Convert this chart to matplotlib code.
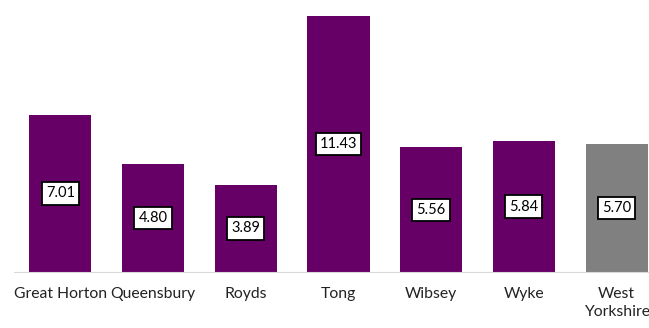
import matplotlib
matplotlib.use("Agg")
import matplotlib.pyplot as plt

areas = ["Great Horton", "Queensbury", "Royds", "Tong", "Wibsey", "Wyke", "West\nYorkshire"]
values = [7.01, 4.80, 3.89, 11.43, 5.56, 5.84, 5.70]
colors = ["#660066"] * 6 + ["#808080"]

plt.rcParams['font.family'] = ['Lato', 'DejaVu Sans']

fig = plt.figure(figsize=(6.49, 3.28), dpi=100)
ax = fig.add_axes([14 / 649, 56 / 328, 635 / 649, 272 / 328])

x = range(len(values))
ax.bar(x, values, width=0.67, color=colors)

for i, v in enumerate(values):
    ax.text(i, v / 2, f"{v:.2f}", ha="center", va="center", fontsize=10.5,
            bbox=dict(boxstyle="square,pad=0.28", fc="white", ec="black", lw=1.3))

ax.set_xlim(-0.5, 6.35)
ax.set_ylim(0, 12.14)
ax.set_xticks(list(x))
ax.set_xticklabels(areas, fontsize=11.3, color="#222222", linespacing=1.35)
ax.tick_params(axis="x", length=0, pad=11)
ax.set_yticks([])
for s in ["top", "left", "right"]:
    ax.spines[s].set_visible(False)
ax.spines["bottom"].set_color("#d9d9d9")

fig.savefig("out.png", dpi=100)
